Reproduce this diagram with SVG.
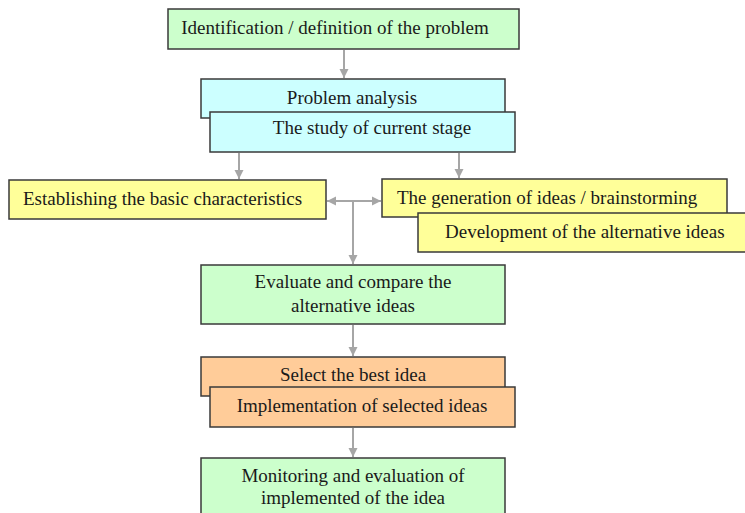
<svg xmlns="http://www.w3.org/2000/svg" width="745" height="513" viewBox="0 0 745 513">
<style>
.box{stroke:#3a3a3a;stroke-width:1.5}
.g{fill:#ccffcc}.c{fill:#ccffff}.y{fill:#ffff99}.o{fill:#ffcc99}
text{font-family:"Liberation Serif","Times New Roman",serif;font-size:19px;fill:#1a1a1a}
.m{text-anchor:middle}
.ln{stroke:#a6a6a6;stroke-width:2;fill:none}
</style>
<defs>
<marker id="ah" markerUnits="userSpaceOnUse" markerWidth="10" markerHeight="10" refX="9" refY="5" orient="auto">
<path d="M0,0.5 L9,5 L0,9.5 z" fill="#a6a6a6"/>
</marker>
</defs>
<g id="connectors">
<line class="ln" x1="344" y1="50" x2="344" y2="78" marker-end="url(#ah)"/>
<line class="ln" x1="239" y1="153" x2="239" y2="179" marker-end="url(#ah)"/>
<line class="ln" x1="459" y1="153" x2="459" y2="178" marker-end="url(#ah)"/>
<line class="ln" x1="353" y1="201" x2="327" y2="201" marker-end="url(#ah)"/>
<line class="ln" x1="353" y1="201" x2="381" y2="201" marker-end="url(#ah)"/>
<line class="ln" x1="353" y1="201" x2="353" y2="264" marker-end="url(#ah)"/>
<line class="ln" x1="353" y1="325" x2="353" y2="356" marker-end="url(#ah)"/>
<line class="ln" x1="353" y1="428" x2="353" y2="457" marker-end="url(#ah)"/>
</g>
<g id="n1"><rect class="box g" x="168" y="9" width="351" height="40"/><text x="335" y="34" class="m">Identification / definition of the problem</text></g>
<g id="n2"><rect class="box c" x="201" y="79" width="304" height="39"/><text x="352" y="104" class="m">Problem analysis</text></g>
<g id="n3"><rect class="box c" x="210" y="112" width="305" height="40"/><text x="372" y="134" class="m">The study of current stage</text></g>
<g id="n4"><rect class="box y" x="9" y="180" width="317" height="39"/><text x="23" y="205">Establishing the basic characteristics</text></g>
<g id="n5"><rect class="box y" x="382" y="179" width="345" height="38"/><text x="397" y="204">The generation of ideas / brainstorming</text></g>
<g id="n6"><rect class="box y" x="418" y="213" width="335" height="39"/><text x="445" y="238">Development of the alternative ideas</text></g>
<g id="n7"><rect class="box g" x="201" y="265" width="304" height="59"/><text x="353" y="288" class="m">Evaluate and compare the</text><text x="353" y="312" class="m">alternative ideas</text></g>
<g id="n8"><rect class="box o" x="201" y="357" width="304" height="39"/><text x="353" y="381" class="m">Select the best idea</text></g>
<g id="n9"><rect class="box o" x="210" y="387" width="305" height="40"/><text x="362" y="412" class="m">Implementation of selected ideas</text></g>
<g id="n10"><rect class="box g" x="201" y="458" width="304" height="62"/><text x="353" y="482" class="m">Monitoring and evaluation of</text><text x="353" y="504" class="m">implemented of the idea</text></g>
</svg>
